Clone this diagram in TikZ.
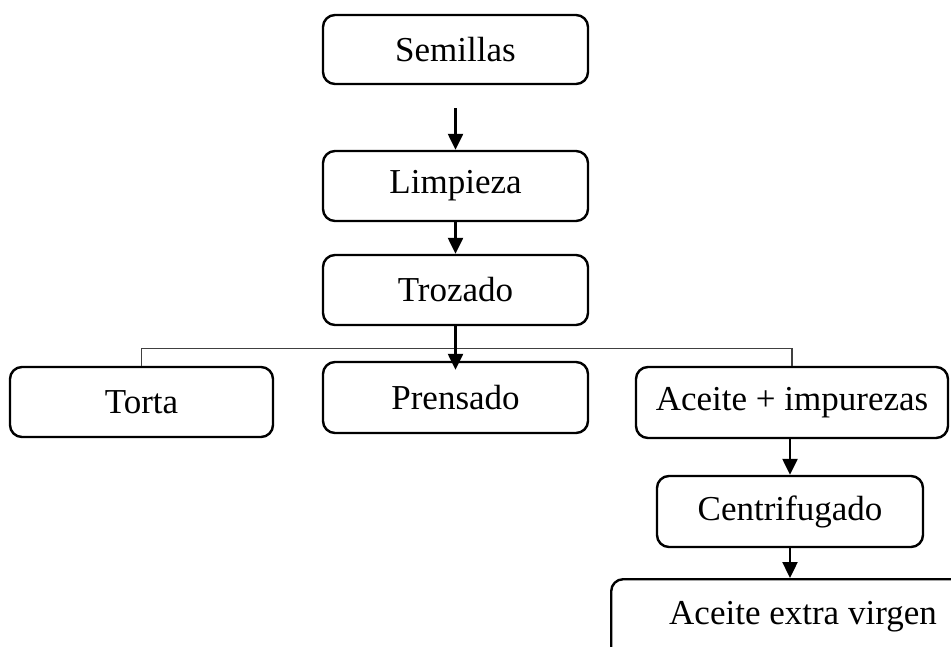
\documentclass[tikz,border=0pt]{standalone}
\usepackage{fontspec}
\setmainfont{Liberation Serif}
\usetikzlibrary{arrows.meta,calc}
\begin{document}
\begin{tikzpicture}[x=1pt,y=1pt,
  box/.style={draw=black, line width=2.4pt, rounded corners=12pt, inner sep=0pt, align=center, font=\fontsize{35}{40}\selectfont},
  arr/.style={line width=2.4pt, -{Triangle[length=16pt,width=15pt]}},
  branch/.style={draw=black!75, line width=1.2pt}]
\useasboundingbox (0,0) rectangle (951,-646);
\clip (0,0) rectangle (951,-646);
\node[box, minimum width=265pt, minimum height=69pt] (semillas) at (455.5,-49.5) {Semillas};
\node[box, minimum width=265pt, minimum height=70pt] (limpieza) at (455.5,-186) {Limpieza};
\node[box, minimum width=265pt, minimum height=70pt] (trozado) at (455.5,-290) {Trozado};
\node[box, minimum width=263pt, minimum height=70pt] (torta) at (141.5,-402) {Torta};
\node[box, minimum width=265pt, minimum height=71pt] (prensado) at (455.5,-397.5) {Prensado};
\node[box, minimum width=312pt, minimum height=71pt] (aceite) at (792,-402.5) {Aceite + impurezas};
\node[box, minimum width=266pt, minimum height=71pt] (centri) at (790,-511.5) {Centrifugado};
\node[box, anchor=north west, inner xsep=58pt, minimum height=90pt] (extra) at (610,-578) {\raisebox{22pt}{\makebox[254pt][l]{Aceite extra virgen}}};
\coordinate (s1) at ($(semillas.south)+(0,-23)$);
\draw[arr] (s1) -- (limpieza.north);
\draw[arr] (limpieza.south) -- (trozado.north);
\draw[branch] (torta.north) -- ++(0,17) -| (aceite.north);
\draw[arr] (trozado.south) -- ($(prensado.north)+(0,-9)$);
\draw[arr] (aceite.south -| centri.north) -- (centri.north);
\draw[arr] (centri.south) -- (centri.south |- extra.north);
\end{tikzpicture}
\end{document}
